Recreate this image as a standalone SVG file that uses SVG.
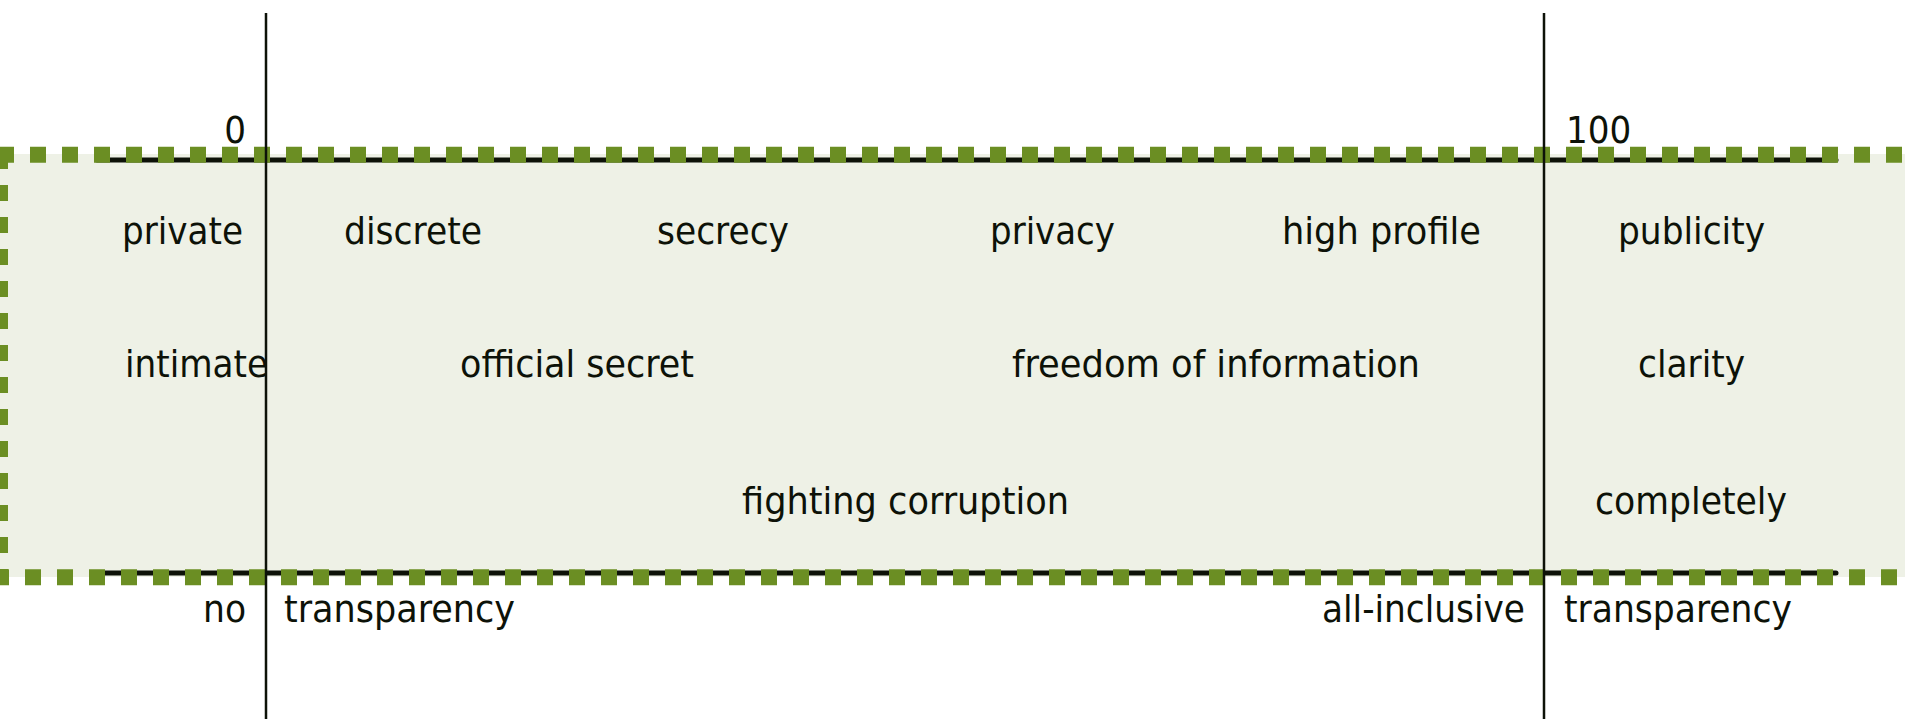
<svg xmlns="http://www.w3.org/2000/svg" width="1905" height="719" viewBox="0 0 1905 719">
<style>
.t{font-family:"DejaVu Sans Condensed","DejaVu Sans",sans-serif;font-stretch:condensed;font-size:38px;fill:#0d1208}
.bar{stroke:#0d1208;stroke-width:5;stroke-linecap:round;fill:none}
.axis{stroke:#0d1208;stroke-width:2.5;fill:none}
.dash{stroke:#6b8e23;stroke-width:16;stroke-dasharray:16 16;fill:none}
</style>
<g id="band">
<rect x="0" y="154" width="1905" height="423" fill="#eef1e6"/>
</g>
<g id="connectors">
<line class="bar" x1="97" y1="160" x2="1836" y2="160"/>
<line class="bar" x1="97" y1="573" x2="1836" y2="573"/>
</g>
<g id="border">
<line class="dash" x1="-2" y1="154.7" x2="1905" y2="154.7"/>
<line class="dash" x1="-7" y1="577.3" x2="1905" y2="577.3"/>
<line class="dash" x1="0" y1="153" x2="0" y2="570"/>
</g>
<g id="scale-labels">
<text class="t" x="246" y="143" text-anchor="end">0</text>
<text class="t" x="1566" y="143">100</text>
</g>
<g id="row1">
<text class="t" x="122" y="244" textLength="121" lengthAdjust="spacingAndGlyphs">private</text>
<text class="t" x="344" y="244" textLength="138" lengthAdjust="spacingAndGlyphs">discrete</text>
<text class="t" x="657" y="244" textLength="132" lengthAdjust="spacingAndGlyphs">secrecy</text>
<text class="t" x="990" y="244" textLength="125" lengthAdjust="spacingAndGlyphs">privacy</text>
<text class="t" x="1282" y="244" textLength="199" lengthAdjust="spacingAndGlyphs">high profile</text>
<text class="t" x="1618" y="244" textLength="147" lengthAdjust="spacingAndGlyphs">publicity</text>
</g>
<g id="row2">
<text class="t" x="125" y="377" textLength="143" lengthAdjust="spacingAndGlyphs">intimate</text>
<text class="t" x="460" y="377" textLength="234" lengthAdjust="spacingAndGlyphs">official secret</text>
<text class="t" x="1012" y="377" textLength="408" lengthAdjust="spacingAndGlyphs">freedom of information</text>
<text class="t" x="1638" y="377" textLength="107" lengthAdjust="spacingAndGlyphs">clarity</text>
</g>
<g id="row3">
<text class="t" x="742" y="514" textLength="327" lengthAdjust="spacingAndGlyphs">fighting corruption</text>
<text class="t" x="1595" y="514" textLength="192" lengthAdjust="spacingAndGlyphs">completely</text>
</g>
<g id="bottom-labels">
<text class="t" x="203" y="622" textLength="43" lengthAdjust="spacingAndGlyphs">no</text>
<text class="t" x="284" y="622" textLength="231" lengthAdjust="spacingAndGlyphs">transparency</text>
<text class="t" x="1322" y="622" textLength="203" lengthAdjust="spacingAndGlyphs">all-inclusive</text>
<text class="t" x="1564" y="622" textLength="228" lengthAdjust="spacingAndGlyphs">transparency</text>
</g>
<g id="axes">
<line class="axis" x1="266" y1="13" x2="266" y2="719"/>
<line class="axis" x1="1544" y1="13" x2="1544" y2="719"/>
</g>
</svg>
